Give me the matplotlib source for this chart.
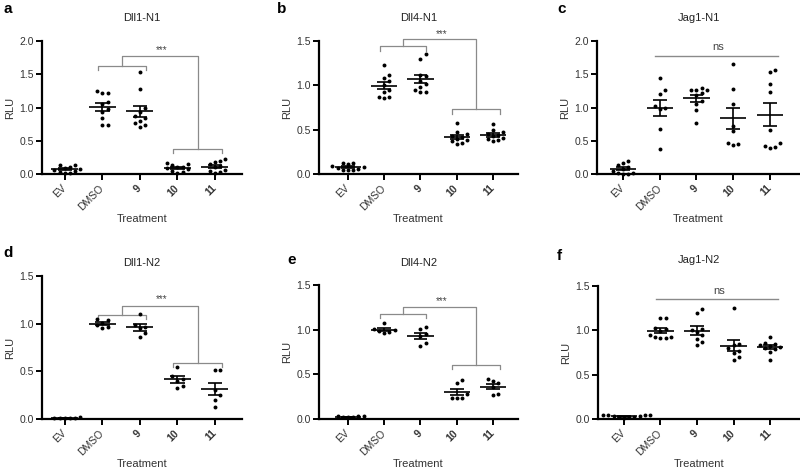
import numpy as np
import matplotlib.pyplot as plt

plt.rcParams['font.family'] = ['Liberation Sans', 'DejaVu Sans']

W, H = 800, 470

groups = ['EV', 'DMSO', '9', '10', '11']

# a  Dll1-N1
a_ev = [0.14, 0.13, 0.11, 0.09, 0.07, 0.06, 0.05, 0.03, 0.02, 0.01]
a_dmso = [1.25, 1.22, 1.22, 1.08, 1.05, 0.98, 0.93, 0.84, 0.73, 0.73]
a_9 = [1.53, 1.28, 1.00, 0.93, 0.87, 0.84, 0.80, 0.77, 0.74, 0.70]
a_10 = [0.17, 0.15, 0.13, 0.11, 0.10, 0.09, 0.07, 0.05, 0.03, 0.02]
a_11 = [0.22, 0.20, 0.18, 0.15, 0.12, 0.10, 0.06, 0.04, 0.03, 0.02]

# b  Dll4-N1
b_ev = [0.12, 0.12, 0.11, 0.09, 0.08, 0.07, 0.06, 0.05, 0.05, 0.04]
b_dmso = [1.23, 1.12, 1.08, 1.05, 1.00, 0.95, 0.92, 0.87, 0.87, 0.86]
b_9 = [1.35, 1.30, 1.12, 1.10, 1.05, 1.02, 0.98, 0.95, 0.93, 0.92]
b_10 = [0.58, 0.47, 0.45, 0.43, 0.42, 0.40, 0.38, 0.37, 0.35, 0.34]
b_11 = [0.56, 0.50, 0.47, 0.45, 0.44, 0.43, 0.41, 0.39, 0.38, 0.37]

# c  Jag1-N1
c_ev = [0.20, 0.16, 0.14, 0.10, 0.08, 0.05, 0.02, 0.01, 0.0, 0.0]
c_dmso = [1.44, 1.27, 1.21, 1.03, 1.00, 0.98, 0.67, 0.37]
c_9 = [1.30, 1.27, 1.27, 1.26, 1.22, 1.19, 1.10, 1.06, 0.96, 0.76]
c_10 = [1.66, 1.28, 1.06, 0.72, 0.64, 0.47, 0.45, 0.43]
c_11 = [1.57, 1.53, 1.36, 1.24, 0.66, 0.46, 0.42, 0.40, 0.39]

# d  Dll1-N2
d_ev = [0.02, 0.01, 0.01, 0.01, 0.01, 0.01]
d_dmso = [1.05, 1.04, 1.01, 0.99, 0.96, 0.95]
d_9 = [1.10, 0.99, 0.97, 0.95, 0.90, 0.86]
d_10 = [0.55, 0.45, 0.42, 0.40, 0.35, 0.32]
d_11 = [0.51, 0.51, 0.30, 0.25, 0.20, 0.13]

# e  Dll4-N2
e_ev = [0.03, 0.03, 0.02, 0.02, 0.02, 0.03]
e_dmso = [1.07, 1.01, 1.00, 0.99, 0.97, 0.96]
e_9 = [1.03, 1.01, 0.95, 0.93, 0.85, 0.82]
e_10 = [0.44, 0.40, 0.28, 0.24, 0.23, 0.23]
e_11 = [0.45, 0.42, 0.40, 0.36, 0.28, 0.27]

# f  Jag1-N2
f_ev = [0.05, 0.05, 0.04, 0.04, 0.03, 0.03, 0.02, 0.02, 0.02, 0.01]
f_dmso = [1.14, 1.14, 1.03, 1.01, 0.99, 0.95, 0.93, 0.92, 0.91, 0.91]
f_9 = [1.24, 1.19, 1.02, 1.00, 0.98, 0.95, 0.90, 0.87, 0.83]
f_10 = [1.25, 0.85, 0.83, 0.80, 0.77, 0.75, 0.70, 0.67]
f_11 = [0.93, 0.86, 0.85, 0.84, 0.82, 0.81, 0.80, 0.79, 0.76, 0.67]

letters = ['a', 'b', 'c', 'd', 'e', 'f']
titles = ['Dll1-N1', 'Dll4-N1', 'Jag1-N1', 'Dll1-N2', 'Dll4-N2', 'Jag1-N2']
sig = ['***', '***', 'ns', '***', '***', 'ns']
ymax = [2.0, 1.5, 2.0, 1.5, 1.5, 1.5]

data = [
    [a_ev, a_dmso, a_9, a_10, a_11],
    [b_ev, b_dmso, b_9, b_10, b_11],
    [c_ev, c_dmso, c_9, c_10, c_11],
    [d_ev, d_dmso, d_9, d_10, d_11],
    [e_ev, e_dmso, e_9, e_10, e_11],
    [f_ev, f_dmso, f_9, f_10, f_11],
]

# layout in pixels: left, top, right, bottom of the axes box
boxes = [(42, 41, 242, 174), (319, 41, 518, 174), (597, 41, 800, 174),
         (42, 276, 242, 419), (319, 285, 518, 419), (598, 286, 800, 419)]
xlims = [(-0.61, 4.72), (-0.8, 4.69), (-0.71, 4.82),
         (-0.61, 4.72), (-0.8, 4.69), (-0.71, 4.82)]
# letter (x, baseline) and title baseline, pixels
letter_pos = [(3, 13), (277, 13), (557, 13), (3, 257), (287, 264), (557, 260)]
title_base = [21, 21, 21, 266, 266, 263]

# brackets: upper pair y, leg, joint y, lower pair y, star y
brackets = [(1.63, 0.07, 1.77, 0.38, 1.86),
            (1.44, 0.055, 1.52, 0.73, 1.58),
            None,
            (1.09, 0.04, 1.19, 0.585, 1.26),
            (1.17, 0.04, 1.25, 0.60, 1.32),
            None]
ns_line = [None, None, (1.77, 1.91), None, None, (1.35, 1.44)]

GRAY = '#8a8a8a'


def swarm(vals, px_x, px_y, d=5.2):
    vals = np.asarray(vals, float)
    xs = np.zeros(len(vals))
    placed = []
    for i in np.argsort(vals):
        y = vals[i] * px_y
        k = 0
        while True:
            off = ((k + 1) // 2) * d * (1 if k % 2 else -1)
            if all((off - px) ** 2 + (y - py) ** 2 >= d * d for px, py in placed):
                break
            k += 1
        placed.append((off, y))
        xs[i] = off / px_x
    return xs


fig = plt.figure(figsize=(W / 100, H / 100), dpi=100)

for p in range(6):
    l, t, r, b = boxes[p]
    ax = fig.add_axes([l / W, 1 - b / H, (r - l) / W, (b - t) / H])
    x0, x1 = xlims[p]
    ax.set_xlim(x0, x1)
    ax.set_ylim(0, ymax[p])
    px_x = (r - l) / (x1 - x0)
    px_y = (b - t) / ymax[p]

    for i, vals in enumerate(data[p]):
        vals = np.asarray(vals)
        xs = i + swarm(vals, px_x, px_y)
        ax.scatter(xs, vals, s=8, color='black', zorder=3, clip_on=False, linewidths=0)
        m = vals.mean()
        sem = vals.std(ddof=1) / np.sqrt(len(vals))
        ax.hlines(m, i - 0.36, i + 0.36, color='black', lw=1.2, zorder=4)
        ax.vlines(i, m - sem, m + sem, color='black', lw=1.2, zorder=4)
        ax.hlines([m - sem, m + sem], i - 0.19, i + 0.19, color='black', lw=1.2, zorder=4)

    if brackets[p] is not None:
        yp, leg, yj, yl, ys = brackets[p]
        lx0, lx1 = 1 - 0.12, 2 + 0.16
        rx0, rx1 = 3 - 0.12, 4 + 0.2
        mx_l = (lx0 + lx1) / 2
        mx_r = (rx0 + rx1) / 2
        kw = dict(color=GRAY, lw=0.9, clip_on=False)
        ax.plot([lx0, lx0, lx1, lx1], [yp - leg, yp, yp, yp - leg], **kw)
        ax.plot([rx0, rx0, rx1, rx1], [yl - leg, yl, yl, yl - leg], **kw)
        ax.plot([mx_l, mx_l, mx_r, mx_r], [yp, yj, yj, yl], **kw)
        ax.text((mx_l + mx_r) / 2 + 0.05, ys, sig[p], ha='center', va='center',
                fontsize=7, color='#444444')
    if ns_line[p] is not None:
        yl, ys = ns_line[p]
        ax.plot([0.87, 4.22], [yl, yl], color=GRAY, lw=1.0, clip_on=False)
        ax.text(2.6, ys, sig[p], ha='center', va='center', fontsize=8, color='#444444')

    for s in ['top', 'right']:
        ax.spines[s].set_visible(False)
    for s in ['left', 'bottom']:
        ax.spines[s].set_linewidth(1.6)
    ax.set_yticks(np.arange(0, ymax[p] + 0.01, 0.5))
    ax.set_yticklabels(['%.1f' % v for v in np.arange(0, ymax[p] + 0.01, 0.5)])
    ax.set_xticks(range(len(groups)))
    ax.set_xticklabels(groups, rotation=45, ha='right', va='center',
                       rotation_mode='anchor')
    for lab in ax.get_xticklabels():
        if lab.get_text() in ('9', '10', '11'):
            lab.set_fontweight('bold')
    ax.tick_params(axis='both', direction='out', length=4, width=1.4,
                   labelsize=7.5, labelcolor='#333333', pad=2)
    ax.tick_params(axis='x', pad=5)
    ax.set_ylabel('RLU', fontsize=8, color='#333333', labelpad=3)
    ax.set_xlabel('Treatment', fontsize=8, color='#333333')
    ax.xaxis.set_label_coords(0.5, -40 / (b - t))

    lx, lyb = letter_pos[p]
    fig.text(lx / W, 1 - lyb / H, letters[p], fontsize=11, fontweight='bold',
             ha='left', va='baseline')
    fig.text((l + r) / 2 / W, 1 - title_base[p] / H, titles[p], fontsize=8,
             ha='center', va='baseline', color='#222222')

fig.savefig('out.png', dpi=100)
